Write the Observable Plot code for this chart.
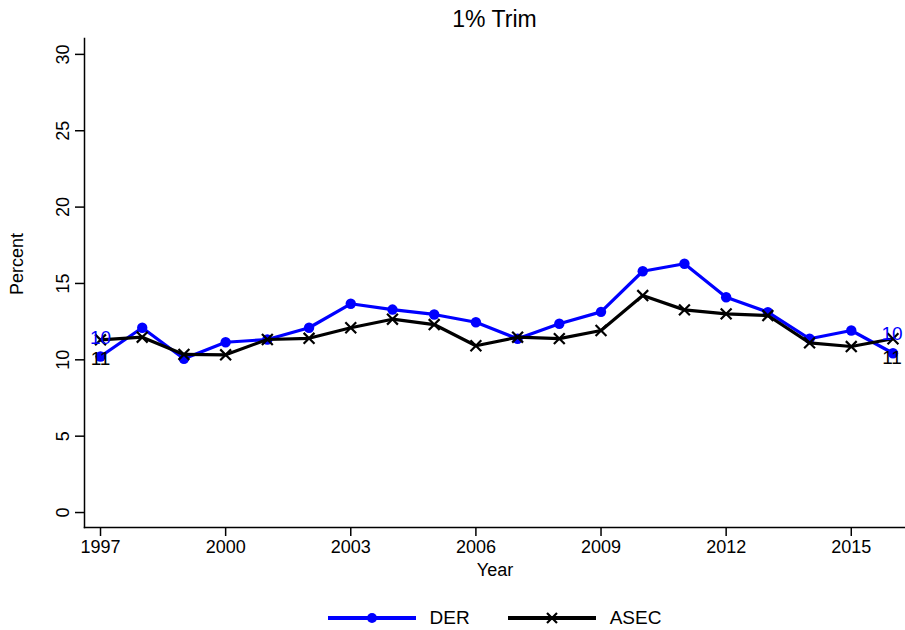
<!DOCTYPE html>
<html>
<head>
<meta charset="utf-8">
<script src="https://cdn.jsdelivr.net/npm/d3@7"></script>
<script src="https://cdn.jsdelivr.net/npm/@observablehq/plot@0.6"></script>
<style>
  html, body { margin: 0; padding: 0; background: #fff; }
  body { width: 905px; height: 630px; overflow: hidden; font-family: "Liberation Sans", Arial, Helvetica, sans-serif; }
  #title { height: 34px; line-height: 38px; padding-left: 84px; text-align: center; font-size: 23px; color: #000; }
  #chart svg { display: block; }
  #legend { height: 36px; display: flex; justify-content: center; align-items: center; padding-left: 84px; padding-top: 12px; box-sizing: border-box; font-size: 19px; }
  .item { display: flex; align-items: center; margin: 0 19px; }
  .item svg { margin-right: 14px; }
</style>
</head>
<body>
<div id="title">1% Trim</div>
<div id="chart"></div>
<div id="legend"></div>
<script>
const years = [1997, 1998, 1999, 2000, 2001, 2002, 2003, 2004, 2005, 2006,
               2007, 2008, 2009, 2010, 2011, 2012, 2013, 2014, 2015, 2016];
const der  = [10.22, 12.10, 10.07, 11.15, 11.33, 12.10, 13.67, 13.29, 12.97, 12.46,
              11.38, 12.36, 13.14, 15.80, 16.29, 14.10, 13.12, 11.38, 11.92, 10.43];
const asec = [11.31, 11.48, 10.35, 10.33, 11.33, 11.41, 12.10, 12.66, 12.31, 10.92,
              11.48, 11.39, 11.92, 14.21, 13.27, 13.01, 12.90, 11.11, 10.87, 11.38];
const xTicks = [1997, 2000, 2003, 2006, 2009, 2012, 2015];
const yTicks = [0, 5, 10, 15, 20, 25, 30];
const seriesNames = ["DER", "ASEC"];
const seriesColors = ["#0000ff", "#000000"];

const derData = years.map((year, i) => ({year, value: der[i]}));
const asecData = years.map((year, i) => ({year, value: asec[i]}));
const first = d => [d[0]];
const last = d => [d[d.length - 1]];
const lbl = d => String(Math.round(d.value));

const chart = Plot.plot({
  width: 905,
  height: 560,
  marginLeft: 84,
  marginRight: 0,
  marginTop: 4,
  marginBottom: 67,
  x: {domain: [1996.616, 2016.30]},
  y: {domain: [-0.98, 31.04]},
  style: {fontFamily: "'Liberation Sans', Arial, Helvetica, sans-serif", fontSize: "18px", background: "white", color: "black"},
  marks: [
    Plot.frame({anchor: "left", stroke: "black", strokeWidth: 1.5}),
    Plot.frame({anchor: "bottom", stroke: "black", strokeWidth: 1.5}),
    Plot.axisX({ticks: xTicks, tickFormat: d => String(d), tickSize: 9, tickPadding: 4, label: null, fontSize: 18, strokeWidth: 1.5}),
    Plot.axisY({ticks: yTicks, tickSize: 9, tickPadding: 7, tickRotate: -90, label: null, fontSize: 18, strokeWidth: 1.5}),
    Plot.text(["Year"], {frameAnchor: "bottom", dy: 48, fontSize: 18}),
    Plot.text(["Percent"], {frameAnchor: "left", dx: -67, dy: 12, rotate: -90, fontSize: 18}),
    Plot.line(derData, {x: "year", y: "value", stroke: seriesColors[0], strokeWidth: 3.2}),
    Plot.dot(derData, {x: "year", y: "value", fill: seriesColors[0], r: 5.2}),
    Plot.line(asecData, {x: "year", y: "value", stroke: seriesColors[1], strokeWidth: 3.2}),
    Plot.dot(asecData, {x: "year", y: "value", symbol: "times", stroke: seriesColors[1], strokeWidth: 2.2, r: 5}),
    Plot.text(first(derData), {x: "year", y: "value", text: lbl, fill: seriesColors[0], dy: -19, fontSize: 19}),
    Plot.text(last(derData), {x: "year", y: "value", text: lbl, fill: seriesColors[0], dy: -19, dx: -1, fontSize: 19}),
    Plot.text(first(asecData), {x: "year", y: "value", text: lbl, fill: seriesColors[1], dy: 19, fontSize: 19}),
    Plot.text(last(asecData), {x: "year", y: "value", text: lbl, fill: seriesColors[1], dy: 19, dx: -1, fontSize: 19})
  ]
});
document.getElementById("chart").appendChild(chart);

// Legend
const legend = d3.select("#legend");
seriesNames.forEach((name, i) => {
  const item = legend.append("div").attr("class", "item");
  const s = item.append("svg").attr("width", 88).attr("height", 14);
  s.append("line").attr("x1", 0).attr("x2", 88).attr("y1", 7).attr("y2", 7)
    .attr("stroke", seriesColors[i]).attr("stroke-width", 4);
  if (i === 0) {
    s.append("circle").attr("cx", 44).attr("cy", 7).attr("r", 5).attr("fill", seriesColors[i]);
  } else {
    s.append("path").attr("d", "M39,2L49,12M39,12L49,2").attr("stroke", seriesColors[i]).attr("stroke-width", 2.2);
  }
  item.append("span").text(name);
});
</script>
</body>
</html>
